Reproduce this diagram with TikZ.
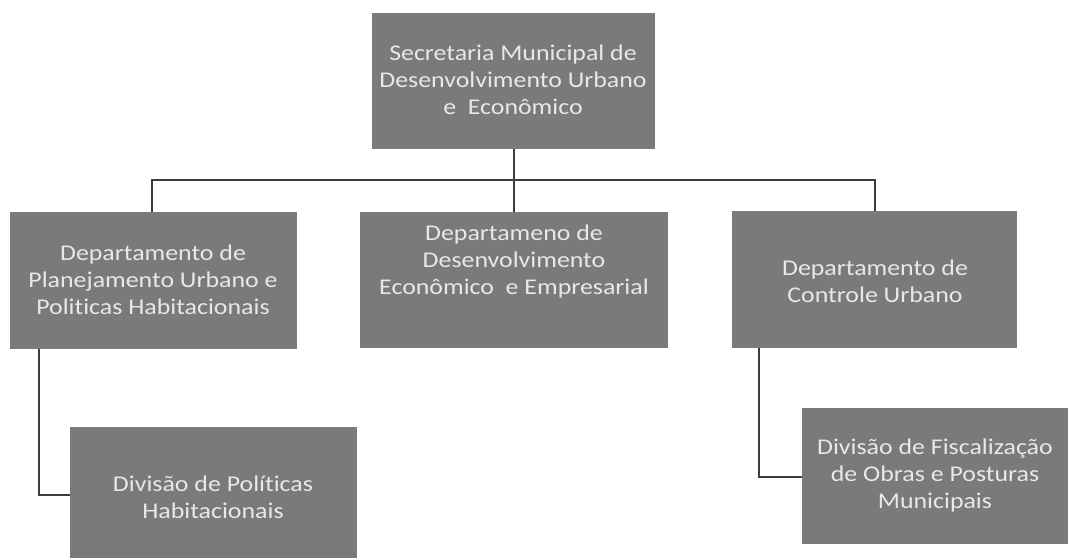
\documentclass[tikz,border=0pt]{standalone}
\usepackage{fontspec}
\setmainfont[FakeStretch=1.15,Ligatures=NoCommon]{Carlito}
\definecolor{boxfill}{RGB}{122,122,122}
\definecolor{boxtext}{RGB}{232,232,232}
\definecolor{linecol}{RGB}{60,60,60}
\begin{document}
\begin{tikzpicture}[x=1pt,y=-1pt,
  orgbox/.style={fill=boxfill,draw=none,anchor=north west,inner sep=0pt},
  orgtext/.style={text=boxtext,align=center,font=\fontsize{22.5}{27}\selectfont},
  conn/.style={draw=linecol,line width=2.6pt}]
\useasboundingbox (0,0) rectangle (1070,558);
\fill[white] (0,0) rectangle (1070,558);
% boxes
\node[orgbox,minimum width=283pt,minimum height=136pt] (top) at (372,13) {};
\node[orgbox,minimum width=287pt,minimum height=137pt] (left) at (10,212) {};
\node[orgbox,minimum width=308pt,minimum height=136pt] (mid) at (360,212) {};
\node[orgbox,minimum width=285pt,minimum height=137pt] (right) at (732,211) {};
\node[orgbox,minimum width=287pt,minimum height=131pt] (bl) at (70,427) {};
\node[orgbox,minimum width=266pt,minimum height=136pt] (br) at (802,408) {};
% texts
\node[orgtext] (toptext) at (513,80) {Secretaria Municipal de\\Desenvolvimento Urbano\\e\ \ Econômico};
\node[orgtext] (lefttext) at (153,280) {Departamento de\\Planejamento Urbano e\\Politicas Habitacionais};
\node[orgtext] (midtext) at (514,261) {Departameno de\\Desenvolvimento\\Econômico\ \ e Empresarial};
\node[orgtext] (righttext) at (875,281) {Departamento de\\Controle Urbano};
\node[orgtext] (bltext) at (213,497) {Divisão de Políticas\\Habitacionais};
\node[orgtext] (brtext) at (935,475) {Divisão de Fiscalização\\de Obras e Posturas\\Municipais};
% connectors
\coordinate (hub) at (514,180);
\draw[conn] (top.south -| hub) -- (hub);
\draw[conn] (left.north -| 152,0) |- (hub) -| (right.north -| 875,0);
\draw[conn] (hub) -- (mid.north -| hub);
\draw[conn] (left.south -| 39,0) |- (bl.west |- 0,495);
\draw[conn] (right.south -| 759,0) |- (br.west |- 0,477);
\end{tikzpicture}
\end{document}
